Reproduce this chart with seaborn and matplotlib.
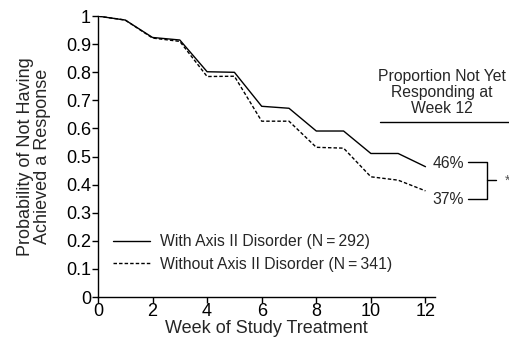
import numpy as np
import pandas as pd
import matplotlib
matplotlib.use("Agg")
import matplotlib.pyplot as plt
import seaborn as sns

weeks = [0, 1, 2, 3, 4, 5, 6, 7, 8, 9, 10, 11, 12]
with_axis2 = [1.0, 0.986, 0.924, 0.915, 0.802, 0.800, 0.679, 0.672, 0.591, 0.591, 0.511, 0.511, 0.464]
without_axis2 = [1.0, 0.986, 0.922, 0.910, 0.785, 0.786, 0.626, 0.626, 0.533, 0.530, 0.428, 0.416, 0.378]
labels = ["With Axis II Disorder (N\u2009=\u2009292)", "Without Axis II Disorder (N\u2009=\u2009341)"]
pct_labels = ["46%", "37%"]

df = pd.DataFrame({
    "week": weeks * 2,
    "prob": with_axis2 + without_axis2,
    "group": [labels[0]] * len(weeks) + [labels[1]] * len(weeks),
})

sns.set_style("ticks")
plt.rcParams["font.family"] = ["Liberation Sans", "DejaVu Sans"]

fig = plt.figure(figsize=(5.1, 3.43), dpi=100)
ax = fig.add_axes([0.192, 0.134, 0.661, 0.819])

sns.lineplot(data=df, x="week", y="prob", style="group", color="black",
             dashes={labels[0]: "", labels[1]: (2.5, 1.5)}, linewidth=1.0, ax=ax)

ax.set_xlim(0, 12.35)
ax.set_ylim(0, 1)
ax.set_xticks([0, 2, 4, 6, 8, 10, 12])
ax.set_yticks(np.arange(0, 1.01, 0.1))
ax.set_yticklabels(["0", "0.1", "0.2", "0.3", "0.4", "0.5", "0.6", "0.7", "0.8", "0.9", "1"])
ax.tick_params(labelsize=13, length=4, width=1, pad=1, colors="black")
ax.tick_params(axis="x", pad=0)
for s in ["top", "right"]:
    ax.spines[s].set_visible(False)
for s in ["left", "bottom"]:
    ax.spines[s].set_linewidth(1)
    ax.spines[s].set_color("black")

ax.set_xlabel("Week of Study Treatment", fontsize=13, labelpad=0)
ax.set_ylabel("Probability of Not Having\nAchieved a Response", fontsize=13, labelpad=11,
              linespacing=0.95)

leg = ax.legend(loc="upper left", bbox_to_anchor=(0.025, 0.245), frameon=False,
                fontsize=11.3, handlelength=2.4, handletextpad=0.6, labelspacing=0.45,
                borderaxespad=0)

# right-hand annotation
tr = ax.transData
ax.text(12.6, 0.728, "Proportion Not Yet\nResponding at\nWeek 12", ha="center", va="center",
        fontsize=11.3, linespacing=1.12, transform=tr, clip_on=False)
ax.plot([10.35, 15.05], [0.622, 0.622], color="black", lw=1, transform=tr, clip_on=False)
ax.text(12.25, with_axis2[-1] + 0.01, pct_labels[0], ha="left", va="center", fontsize=11.3,
        transform=tr, clip_on=False)
ax.text(12.25, without_axis2[-1] - 0.03, pct_labels[1], ha="left", va="center", fontsize=11.3,
        transform=tr, clip_on=False)
bx0, bx1, bx2 = 13.55, 14.25, 14.58
y_top, y_bot = 0.48, 0.35
ax.plot([bx0, bx1, bx1, bx0], [y_top, y_top, y_bot, y_bot], color="black", lw=1,
        transform=tr, clip_on=False)
ax.plot([bx1, bx2], [(y_top + y_bot) / 2] * 2, color="black", lw=1, transform=tr, clip_on=False)
ax.text(14.9, (y_top + y_bot) / 2, "*", ha="left", va="center", fontsize=10, color="#555555",
        transform=tr, clip_on=False)

fig.savefig("out.png", dpi=100)
